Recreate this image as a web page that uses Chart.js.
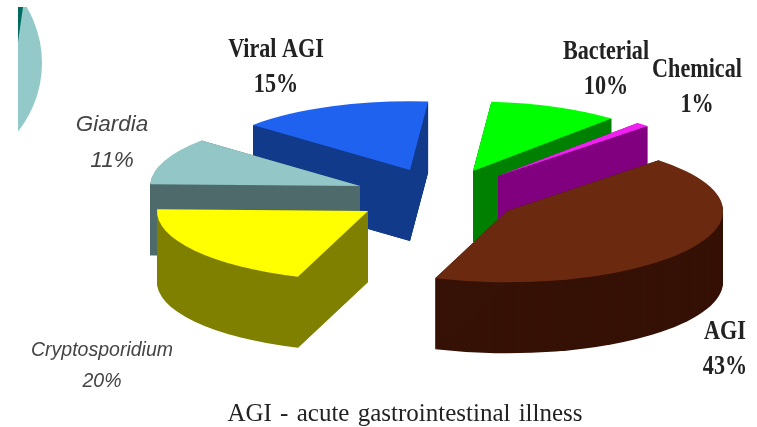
<!DOCTYPE html>
<html lang="en">
  <head>
    <meta charset="utf-8" />
    <title>AGI pie</title>
    <style>
      * {
        margin: 0;
        padding: 0;
      }
      body {
        background: #fff;
        overflow: hidden;
      }
      canvas {
        display: block;
        filter: blur(0.6px);
      }
    </style>
  </head>
  <body>
    <canvas id="myChart" width="757" height="427"></canvas>

    <script src="https://cdn.jsdelivr.net/npm/chart.js"></script>

    <script>
      const categories = ["Chemical", "AGI", "Cryptosporidium", "Giardia", "Viral AGI", "Bacterial"];
      const percents = [1, 43, 20, 11, 15, 10];
      const topColors = ["#f020f0", "#6b2a10", "#ffff00", "#93c6c6", "#2062f0", "#00ff00"];
      const sideColors = ["#800080", "#361106", "#808000", "#4e6a6a", "#123a8a", "#008000"];
      const caption = "AGI - acute gastrointestinal illness";

      // where each exploded slice sits: tip x, tip y, radius
      const slicePlace = [
        [498, 176, 213],
        [507, 211, 216],
        [368, 211, 211],
        [360, 186, 210],
        [410, 170, 208],
        [473, 171, 211],
      ];
      // back to front
      const drawOrder = [4, 3, 2, 5, 0, 1];
      const squash = 0.33;
      const depth = 71;

      // label centre x, name y, percent y, font, colour, horizontal squeeze
      const serifBold = "bold 27px 'Liberation Serif'";
      const labelPlace = [
        [697, 70, 105, serifBold, "#222", 0.82],
        [725, 332, 367, serifBold, "#222", 0.82],
        [102, 351, 382, "italic 19.5px 'Liberation Sans'", "#444", 1],
        [112, 125, 161, "italic 22.5px 'Liberation Sans'", "#444", 1],
        [276, 50, 85, serifBold, "#222", 0.82],
        [606, 52, 87, serifBold, "#222", 0.82],
      ];

      function wedge(ctx, x, y, r, start, end) {
        ctx.save();
        ctx.translate(x, y);
        ctx.scale(1, squash);
        ctx.beginPath();
        ctx.moveTo(0, 0);
        ctx.arc(0, 0, r, start, end);
        ctx.closePath();
        ctx.restore();
        ctx.fill();
      }

      // flat wall along a cut edge of the slice
      function cutWall(ctx, x, y, r, angle) {
        const ex = x + r * Math.cos(angle);
        const ey = y + r * squash * Math.sin(angle);
        ctx.beginPath();
        ctx.moveTo(x, y);
        ctx.lineTo(ex, ey);
        ctx.lineTo(ex, ey + depth);
        ctx.lineTo(x, y + depth);
        ctx.closePath();
        ctx.fill();
      }

      function squeezedText(ctx, text, x, y, squeeze) {
        ctx.save();
        ctx.translate(x, y);
        ctx.scale(squeeze, 1);
        ctx.fillText(text, 0, 0);
        ctx.restore();
      }

      const tiltedPie = {
        id: "tiltedPie",
        beforeDatasetsDraw(chart) {
          const { ctx } = chart;
          const arcs = chart.getDatasetMeta(0).data;

          // corner of the slide behind the chart
          ctx.save();
          ctx.beginPath();
          ctx.rect(18, 7, 100, 130);
          ctx.clip();
          ctx.fillStyle = "#93c9c9";
          ctx.beginPath();
          ctx.arc(-68, 63, 110, 0, Math.PI * 2);
          ctx.fill();
          ctx.fillStyle = "#006b60";
          ctx.beginPath();
          ctx.moveTo(18, 7);
          ctx.lineTo(23, 7);
          ctx.lineTo(18, 42);
          ctx.closePath();
          ctx.fill();
          ctx.restore();

          drawOrder.forEach((i) => {
            const { startAngle, endAngle } = arcs[i];
            const [x, y, r] = slicePlace[i];
            ctx.fillStyle = sideColors[i];
            for (let d = depth; d > 0; d--) {
              wedge(ctx, x, y + d, r, startAngle, endAngle);
            }
            cutWall(ctx, x, y, r, startAngle);
            cutWall(ctx, x, y, r, endAngle);
            ctx.fillStyle = topColors[i];
            wedge(ctx, x, y, r, startAngle, endAngle);
          });

          ctx.textAlign = "center";
          ctx.textBaseline = "middle";
          categories.forEach((name, i) => {
            const [x, y1, y2, font, color, squeeze] = labelPlace[i];
            ctx.font = font;
            ctx.fillStyle = color;
            squeezedText(ctx, name, x, y1, squeeze);
            squeezedText(ctx, percents[i] + "%", x, y2, squeeze);
          });

          ctx.font = "25px 'Liberation Serif'";
          ctx.wordSpacing = "2px";
          ctx.fillStyle = "#222";
          ctx.fillText(caption, 405, 414);

          return false;
        },
      };

      const myChart = new Chart(document.getElementById("myChart"), {
        type: "pie",
        data: {
          labels: categories,
          datasets: [{ data: percents, backgroundColor: topColors, borderWidth: 0 }],
        },
        options: {
          responsive: false,
          animation: false,
          rotation: 41,
          plugins: {
            legend: { display: false },
            tooltip: { enabled: false },
          },
        },
        plugins: [tiltedPie],
      });
    </script>
  </body>
</html>
